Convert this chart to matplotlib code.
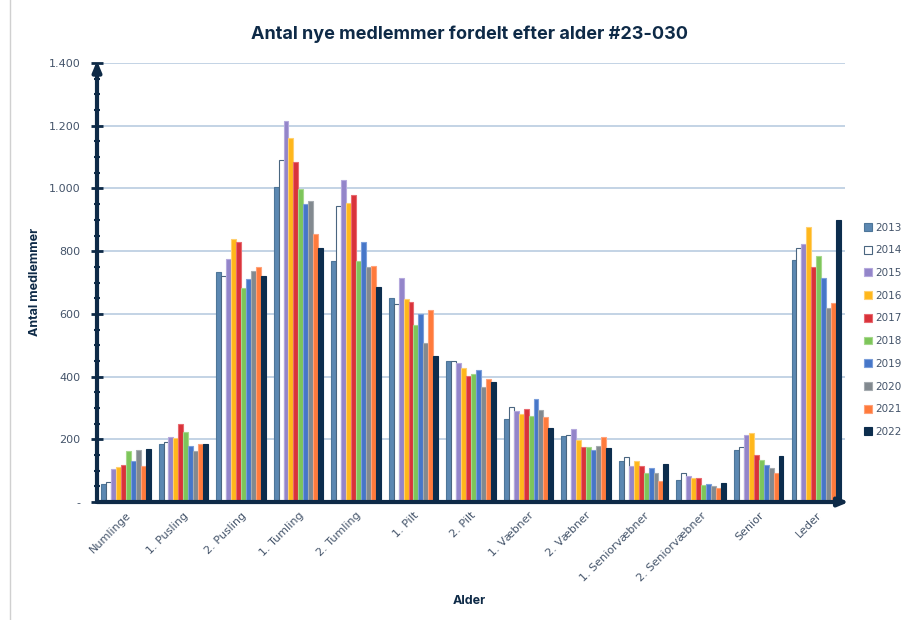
import matplotlib.pyplot as plt
import numpy as np
from matplotlib.ticker import FuncFormatter, MultipleLocator
from matplotlib.lines import Line2D

categories = ["Numlinge", "1. Pusling", "2. Pusling", "1. Tumling", "2. Tumling",
              "1. Pilt", "2. Pilt", "1. Væbner", "2. Væbner", "1. Seniorvæbner",
              "2. Seniorvæbner", "Senior", "Leder"]
years = ["2013", "2014", "2015", "2016", "2017", "2018", "2019", "2020", "2021", "2022"]

v2013 = [58, 184, 735, 1005, 768, 652, 451, 266, 211, 130, 70, 166, 772]
v2014 = [63, 192, 720, 1092, 945, 630, 451, 303, 214, 143, 94, 174, 810]
v2015 = [104, 207, 775, 1215, 1028, 716, 444, 289, 234, 116, 84, 215, 822]
v2016 = [113, 203, 838, 1160, 955, 649, 427, 281, 199, 132, 77, 219, 878]
v2017 = [119, 249, 830, 1083, 978, 637, 402, 296, 176, 114, 77, 150, 748]
v2018 = [163, 224, 683, 998, 768, 565, 407, 274, 177, 92, 55, 133, 785]
v2019 = [132, 179, 710, 950, 828, 599, 422, 330, 166, 108, 57, 118, 713]
v2020 = [167, 162, 738, 960, 748, 508, 366, 293, 180, 94, 50, 108, 620]
v2021 = [114, 185, 750, 855, 752, 613, 391, 271, 207, 68, 46, 93, 636]
v2022 = [168, 185, 722, 810, 685, 467, 384, 235, 171, 120, 61, 147, 900]

series = [v2013, v2014, v2015, v2016, v2017, v2018, v2019, v2020, v2021, v2022]
colors = ["#5C88B2", "#FFFFFF", "#9385C9", "#FFB71B", "#D9323A",
          "#7DC55A", "#4676C8", "#82898F", "#FF7A3B", "#0C2D4D"]
edges = ["#4E7699", "#4A6680", "#B5A9DD", "#FFD070", "#E86A70",
         "#A6D88C", "#7B9FDB", "#A5ABB0", "#FFA27A", "#0C2D4D"]

navy = "#0E2A47"
text_col = "#44546A"

fig = plt.figure(figsize=(9.1, 6.2), dpi=100)
ax = fig.add_axes([0.1066, 0.1903, 0.822, 0.708])

x = np.arange(len(categories))
n = len(series)
w = 0.086
for i, vals in enumerate(series):
    ax.bar(x + (i - (n - 1) / 2) * w, vals, width=w, color=colors[i],
           edgecolor=edges[i], linewidth=0.8, label=years[i], zorder=3)

ax.set_xlim(-0.5, len(categories) - 0.5)
ax.set_ylim(0, 1400)
ax.yaxis.set_major_locator(MultipleLocator(200))
ax.yaxis.set_minor_locator(MultipleLocator(50))
ax.yaxis.set_major_formatter(FuncFormatter(
    lambda v, p: "-" if v == 0 else f"{int(v):,}".replace(",", ".")))
ax.grid(axis="y", color="#B9CCE0", linewidth=1.2, zorder=0)

ax.set_xticks(x)
ax.set_xticklabels(categories, rotation=45, ha="right", rotation_mode="anchor",
                   fontsize=8, color=text_col)
ax.tick_params(axis="x", length=0, pad=6)
ax.tick_params(axis="y", which="major", labelsize=8, labelcolor=text_col,
               direction="inout", length=8, width=2, color=navy, pad=8)
ax.tick_params(axis="y", which="minor", direction="inout", length=5,
               width=1.5, color=navy)

for s in ["top", "right", "left", "bottom"]:
    ax.spines[s].set_visible(False)

# axis lines with arrow heads
ax.annotate("", xy=(0, 1.005), xytext=(0, 0), xycoords="axes fraction",
            arrowprops=dict(arrowstyle="-|>,head_length=0.6,head_width=0.25",
                            color=navy, lw=3, shrinkA=0, shrinkB=0), zorder=5)
ax.annotate("", xy=(1.005, 0), xytext=(0, 0), xycoords="axes fraction",
            arrowprops=dict(arrowstyle="-|>,head_length=0.6,head_width=0.25",
                            color=navy, lw=3, shrinkA=0, shrinkB=0), zorder=5)

fig.text(0.516, 0.945, "Antal nye medlemmer fordelt efter alder #23-030",
         ha="center", va="center", fontsize=13, fontweight="bold",
         color=navy, family="Inter")
fig.text(0.039, 0.545, "Antal medlemmer", rotation=90, ha="center", va="center",
         fontsize=9, fontweight="bold", color=navy, family="Inter")
fig.text(0.516, 0.031, "Alder", ha="center", va="center",
         fontsize=9, fontweight="bold", color=navy, family="Inter")

leg = fig.legend(loc="upper left", bbox_to_anchor=(0.949, 0.641), frameon=False,
                 fontsize=7.5, handlelength=0.8, handleheight=0.8,
                 handletextpad=0.35, labelspacing=1.22, borderaxespad=0,
                 borderpad=0)
for t in leg.get_texts():
    t.set_color(text_col)

# thin grey line at the left edge, as in the source image
fig.add_artist(Line2D([0.0105, 0.0105], [0, 1], transform=fig.transFigure,
                      color="#D0D0D0", linewidth=1))

fig.savefig("out.png", dpi=100)
